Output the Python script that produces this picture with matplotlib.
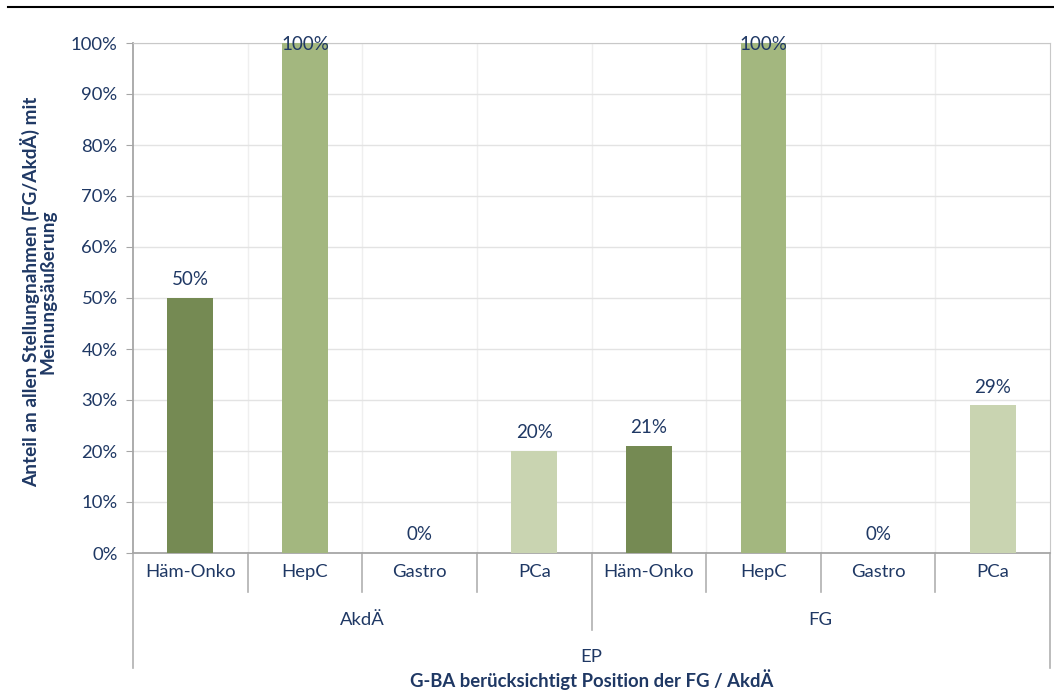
import matplotlib
matplotlib.use("Agg")
import matplotlib.pyplot as plt
import numpy as np

categories = ["Häm-Onko", "HepC", "Gastro", "PCa", "Häm-Onko", "HepC", "Gastro", "PCa"]
groups = ["AkdÄ", "FG"]
values = [0.50, 1.00, 0.00, 0.20, 0.21, 1.00, 0.00, 0.29]
value_labels = ["50%", "100%", "0%", "20%", "21%", "100%", "0%", "29%"]
colors = ["#758a53", "#a3b77f", "#a3b77f", "#c9d4b1", "#758a53", "#a3b77f", "#a3b77f", "#c9d4b1"]
top_label = "EP"
xlabel = "G-BA berücksichtigt Position der FG / AkdÄ"
ylabel = "Anteil an allen Stellungnahmen (FG/AkdÄ) mit\nMeinungsäußerung"
yticks = np.arange(0, 1.01, 0.1)

plt.rcParams['font.family'] = ['Lato', 'DejaVu Sans']
txt = "#1f3864"
gridc = "#e3e3e3"
axc = "#a6a6a6"
fs = 13.3

fig = plt.figure(figsize=(10.54, 6.97), dpi=100)
ax = fig.add_axes([133/1054, (697-553)/697, (1050-133)/1054, 510/697])

x = np.arange(len(categories))
ax.bar(x, values, width=0.4, color=colors, zorder=3)
for xi, v, lab in zip(x, values, value_labels):
    off = 13 if v < 1 else -1
    ax.annotate(lab, (xi, v), xytext=(0, off), textcoords="offset points",
                ha="center", va="center", fontsize=13.5, color=txt, zorder=4)

ax.set_xlim(-0.5, len(categories) - 0.5)
ax.set_ylim(0, 1)
ax.set_yticks(yticks)
ax.set_yticklabels([f"{int(round(t*100))}%" for t in yticks], fontsize=fs, color=txt)
ax.tick_params(axis="y", length=5, color=axc, pad=6)
ax.set_xticks([])
ax.grid(axis="y", color=gridc, lw=1, zorder=0)
for b in np.arange(0.5, len(categories) - 0.5, 1):
    ax.axvline(b, color="#efefef", lw=1, zorder=0)
for s in ["top", "right"]:
    ax.spines[s].set_color("#c8c8c8")
for s in ["left", "bottom"]:
    ax.spines[s].set_color(axc)
    ax.spines[s].set_linewidth(1.3)

trans = ax.get_xaxis_transform()
# category separators
for b in np.arange(-0.5, len(categories) + 0.5, 1):
    y1 = -0.077
    if b in (-0.5, len(categories) - 0.5):
        y1 = -0.226
    elif b == 3.5:
        y1 = -0.151
    ax.plot([b, b], [0, y1], transform=trans, color="#b0b0b0", lw=1.2, clip_on=False)
for xi, c in zip(x, categories):
    ax.text(xi, -0.037, c, transform=trans, ha="center", va="center", fontsize=fs, color=txt)
ng = len(categories) // len(groups)
for gi, g in enumerate(groups):
    ax.text(gi * ng + (ng - 1) / 2, -0.131, g, transform=trans, ha="center", va="center",
            fontsize=fs, color=txt)
ax.text((len(categories) - 1) / 2, -0.204, top_label, transform=trans, ha="center", va="center",
        fontsize=fs, color=txt)
ax.text((len(categories) - 1) / 2, -0.249, xlabel, transform=trans, ha="center", va="center",
        fontsize=fs, color=txt, fontweight="bold")

fig.text(38/1054, 1 - 292/697, ylabel, rotation=90, ha="center", va="center",
         fontsize=13.7, color=txt, fontweight="bold", linespacing=0.95)

fig.add_artist(plt.Line2D([8/1054, 1.0], [1 - 7/697, 1 - 7/697], color="black", lw=1.5))

fig.savefig("out.png", dpi=100)
